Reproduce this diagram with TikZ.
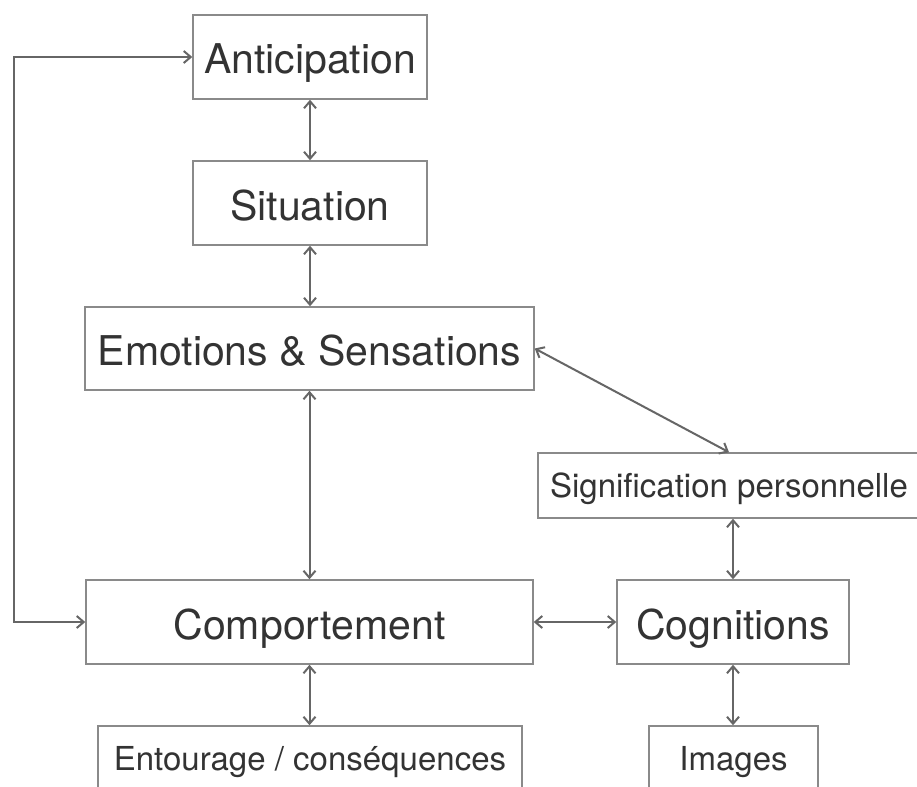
\documentclass[tikz,border=0pt]{standalone}
\usepackage{fontspec}
\setmainfont{TeX Gyre Heros}
\usetikzlibrary{arrows.meta}
\definecolor{boxgray}{HTML}{8A8A8A}
\definecolor{arrowgray}{HTML}{666666}
\definecolor{textgray}{HTML}{333333}
\tikzset{
	bigbox/.style={draw=boxgray,line width=0.75pt,inner sep=0pt,text=textgray,font=\fontsize{20.5}{22}\selectfont,text height=17pt,text depth=0pt},
	smallbox/.style={draw=boxgray,line width=0.75pt,inner sep=0pt,text=textgray,font=\fontsize{16.5}{18}\selectfont,text height=11.5pt,text depth=0pt},
	link/.style={draw=arrowgray,line width=1pt,{Straight Barb[length=3.5pt,width=6pt]}-{Straight Barb[length=3.5pt,width=6pt]}}
}
\begin{document}
\begin{tikzpicture}[x=0.5pt,y=-0.5pt]
			\useasboundingbox (0,0) rectangle (917,787);
			\fill[white] (0,0) rectangle (917,787);
			\clip (0,0) rectangle (917,787);
			
			\node[bigbox,minimum width=117pt,minimum height=42pt] (antic) at (310,57) {Anticipation};
			\node[bigbox,minimum width=117pt,minimum height=42pt] (sit) at (310,203) {Situation};
			\node[bigbox,minimum width=224.5pt,minimum height=41.5pt] (emo) at (309.5,348.5) {Emotions \& Sensations};
			\node[bigbox,minimum width=223.5pt,minimum height=42pt] (comp) at (309.5,622) {Comportement};
			\node[bigbox,minimum width=116pt,minimum height=42pt] (cog) at (733,622) {Cognitions};
			
			\node[smallbox,minimum width=191pt,minimum height=32.5pt] (sig) at (729,485.5) {Signification personnelle};
			\node[smallbox,minimum width=212pt,minimum height=32.5pt] (ent) at (310,758.5) {Entourage / conséquences};
			\node[smallbox,minimum width=84.5pt,minimum height=32.5pt] (img) at (733.5,758.5) {Images};
			
			\coordinate (loopx) at (14,0);
			
			\draw [link] (antic.south) -- (sit.north);
			\draw [link] (sit.south) -- (sit.south |- emo.north);
			\draw [link] (emo.south -| comp) -- (comp.north);
			\draw [link] (comp.south) -- (comp.south |- ent.north);
			\draw [link] (comp.east) -- (cog.west);
			\draw [link] (emo.east) -- (sig.north);
			\draw [link] (sig.south -| cog) -- (cog.north);
			\draw [link] (cog.south) -- (cog.south |- img.north);
			\draw [link] (antic.west) -- (antic.west -| loopx) |- (comp.west);
\end{tikzpicture}
\end{document}
